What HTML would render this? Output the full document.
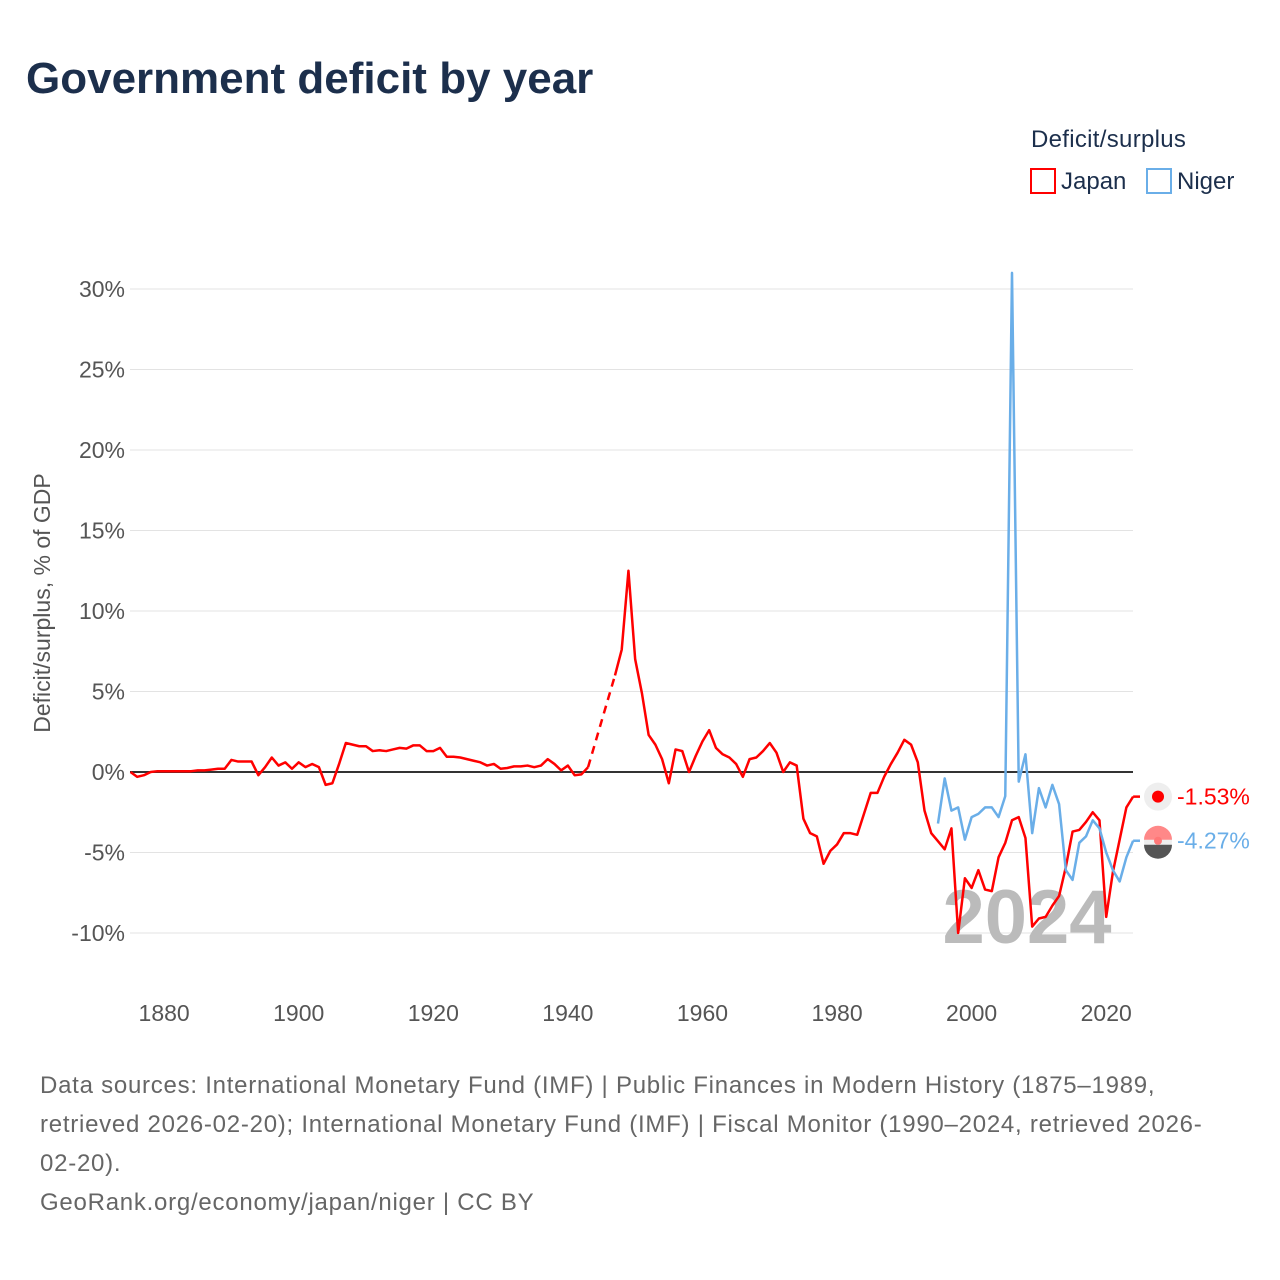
<!DOCTYPE html>
<html><head><meta charset="utf-8"><style>
body{margin:0;background:#fff;font-family:"Liberation Sans",sans-serif}
#wrap{position:relative;width:1280px;height:1280px;overflow:hidden}
.ft{letter-spacing:0.75px}
</style></head><body><div id="wrap">
<svg id="svg" width="1280" height="1280" xmlns="http://www.w3.org/2000/svg">
<text x="26" y="93" font-size="44" font-weight="bold" fill="#1c2f4c">Government deficit by year</text>
<text x="1031" y="147" font-size="24" fill="#1c2f4c" letter-spacing="0.3">Deficit/surplus</text>
<g><rect x="1031" y="169" width="24" height="24" fill="none" stroke="#f00" stroke-width="2"/><text x="1061" y="189" font-size="24" fill="#1c2f4c">Japan</text></g>
<g><rect x="1147" y="169" width="24" height="24" fill="none" stroke="#6aaee8" stroke-width="2"/><text x="1177" y="189" font-size="24" fill="#1c2f4c">Niger</text></g>
<text transform="translate(50,603) rotate(-90)" text-anchor="middle" font-size="23" fill="#555">Deficit/surplus, % of GDP</text>
<g id="grid"></g><g id="yt"></g><g id="xt"></g>
<text x="1027" y="943" text-anchor="middle" font-size="76" font-weight="bold" fill="#bbb">2024</text>
<g id="lines"></g>
<g id="ends"></g>
<text class="ft" x="40" y="1093" font-size="24" fill="#666">Data sources: International Monetary Fund (IMF) | Public Finances in Modern History (1875–1989,</text>
<text class="ft" x="40" y="1132" font-size="24" fill="#666">retrieved 2026-02-20); International Monetary Fund (IMF) | Fiscal Monitor (1990–2024, retrieved 2026-</text>
<text class="ft" x="40" y="1171" font-size="24" fill="#666">02-20).</text>
<text class="ft" x="40" y="1210" font-size="24" fill="#666">GeoRank.org/economy/japan/niger | CC BY</text>
</svg></div>
<script>
const xTicks=[1880,1900,1920,1940,1960,1980,2000,2020];
const yTicks=[-10,-5,0,5,10,15,20,25,30];
const japanStart=1875;
const japanValues=[0,-0.3,-0.2,0,0.05,0.05,0.05,0.05,0.05,0.05,0.1,0.1,0.15,0.2,0.2,0.75,0.65,0.65,0.65,-0.2,0.3,0.9,0.4,0.6,0.2,0.6,0.3,0.5,0.3,-0.8,-0.7,0.5,1.8,1.7,1.6,1.6,1.3,1.35,1.3,1.4,1.5,1.45,1.65,1.65,1.3,1.3,1.5,0.95,0.95,0.9,0.8,0.7,0.6,0.4,0.5,0.2,0.25,0.35,0.35,0.4,0.3,0.4,0.8,0.5,0.1,0.4,-0.2,-0.15,0.3,null,null,null,6,7.6,12.5,7,4.9,2.3,1.7,0.8,-0.7,1.4,1.3,0,1,1.9,2.6,1.5,1.1,0.9,0.5,-0.3,0.8,0.9,1.3,1.8,1.2,0,0.6,0.4,-2.9,-3.8,-4,-5.7,-4.9,-4.5,-3.8,-3.8,-3.9,-2.6,-1.3,-1.3,-0.3,0.5,1.2,2,1.7,0.6,-2.4,-3.8,-4.3,-4.8,-3.5,-10,-6.6,-7.2,-6.1,-7.3,-7.4,-5.3,-4.4,-3,-2.8,-4.1,-9.6,-9.1,-9,-8.3,-7.7,-5.9,-3.7,-3.6,-3.1,-2.5,-3,-9,-6.2,-4.2,-2.2,-1.53,-1.53];
const nigerStart=1995;
const nigerValues=[-3.2,-0.4,-2.4,-2.2,-4.2,-2.8,-2.6,-2.2,-2.2,-2.8,-1.5,31,-0.6,1.1,-3.8,-1,-2.2,-0.8,-2,-6.1,-6.7,-4.4,-4,-3,-3.5,-5,-6.1,-6.8,-5.3,-4.27,-4.27];
const NS='http://www.w3.org/2000/svg';
const X=y=>130.5+(y-1875)*6.729, Y=v=>772-v*16.1;
function mk(t,a,p){const e=document.createElementNS(NS,t);for(const k in a)e.setAttribute(k,a[k]);p.appendChild(e);return e;}
const g=document.getElementById('grid'),yt=document.getElementById('yt'),xt=document.getElementById('xt');
yTicks.forEach(v=>{
 const l=mk('line',{x1:130,x2:1133,y1:Y(v),y2:Y(v),stroke:v===0?'#333':'#e3e3e3','stroke-width':v===0?2:1},g);
 
 
 const t=mk('text',{x:125,y:Y(v)+8,'text-anchor':'end','font-size':23,fill:'#555'},yt);t.textContent=v+'%';
 
 
});
xTicks.forEach(y=>{const t=mk('text',{x:X(y),y:1021,'text-anchor':'middle','font-size':23,fill:'#555'},xt);t.textContent=y;
 
 });
const L=document.getElementById('lines');
function series(start,vals,color,name){
 let segs=[],cur=[],lastPt=null,gaps=[];
 vals.forEach((v,i)=>{
  if(i===vals.length-1)return;
  if(v==null){if(cur.length){segs.push(cur);cur=[];}return;}
  const p=[X(start+i),Y(v)];
  if(!cur.length&&lastPt&&segs.length)gaps.push([lastPt,p]);
  cur.push(p);lastPt=p;});
 if(cur.length)segs.push(cur);
 segs.forEach(s=>{const e=mk('polyline',{points:s.map(p=>p.join(',')).join(' '),fill:'none',stroke:color,'stroke-width':2.5,'stroke-linejoin':'round'},L);
  
  });
 gaps.forEach(([a,b])=>{const e=mk('line',{x1:a[0],y1:a[1],x2:b[0],y2:b[1],stroke:color,'stroke-width':2.5,'stroke-dasharray':'8,6'},L);
  
  });
 const last=vals[vals.length-2];
 const ly=Y(last);
 mk('line',{x1:X(start+vals.length-2),y1:ly,x2:1140,y2:ly,stroke:color,'stroke-width':2.5},L);
 return last;
}
const jl=series(japanStart,japanValues,'#ff0000','japan');
const nl=series(nigerStart,nigerValues,'#6aaee8','niger');
const E=document.getElementById('ends');
[[jl,'#ff0000','japan'],[nl,'#6aaee8','niger']].forEach(([v,c,n],i)=>{
 let yy=Y(v);
 const ga=mk('g',{},E);
 
 
 mk('circle',{cx:1158,cy:yy,r:14,fill:'#eee'},ga);
 if(i===0)mk('circle',{cx:1158,cy:yy,r:6,fill:'#f00'},ga);
 else{mk('path',{d:`M1144,${yy-1} a14,14 0 0 1 28,0 z`,fill:'#f88'},ga);mk('path',{d:`M1144,${yy+4} h28 a14,14 0 0 1 -28,0 z`,fill:'#555'},ga);mk('circle',{cx:1158,cy:yy,r:4,fill:'#f77'},ga);}
 const t=mk('text',{x:1177,y:yy+8,'font-size':23,fill:c},ga);t.textContent=v.toFixed(2)+'%';
});
</script></body></html>
